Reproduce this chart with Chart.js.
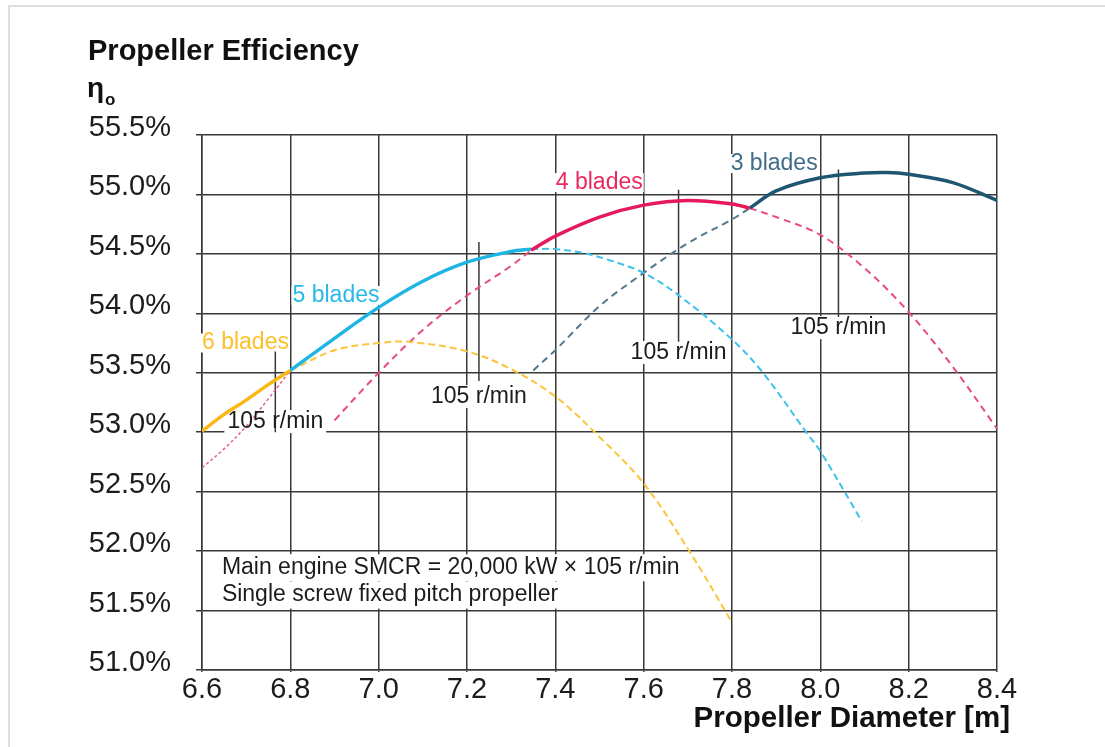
<!DOCTYPE html>
<html>
<head>
<meta charset="utf-8">
<title>Propeller Efficiency</title>
<script src="https://cdn.jsdelivr.net/npm/chart.js@4.4.1/dist/chart.umd.min.js"></script>
<style>
  html, body { margin: 0; padding: 0; background: #fff; }
  #wrap { position: relative; width: 1105px; height: 747px; overflow: hidden; }
  #frame { position: absolute; left: 8px; top: 5px; right: -10px; bottom: -10px;
           border-top: 2px solid #dedede; border-left: 2px solid #dedede; }
  canvas { position: absolute; left: 0; top: 0; }
</style>
</head>
<body>
<div id="wrap"><div id="frame"></div><canvas id="chart" width="1105" height="747"></canvas></div>
<script>
// axis ticks
const xTickValues = [6.6, 6.8, 7.0, 7.2, 7.4, 7.6, 7.8, 8.0, 8.2, 8.4];
const yTickValues = [51.0, 51.5, 52.0, 52.5, 53.0, 53.5, 54.0, 54.5, 55.0, 55.5];

// 6 blades
const sixSolidX = [6.6, 6.65, 6.7, 6.75, 6.8];
const sixSolidY = [53.01, 53.15, 53.27, 53.40, 53.52];
const sixDashX = [6.8, 6.9, 7.0, 7.07, 7.2, 7.3, 7.4, 7.5, 7.6, 7.7, 7.8];
const sixDashY = [53.52, 53.69, 53.75, 53.76, 53.68, 53.53, 53.30, 52.96, 52.57, 52.02, 51.40];

// 5 blades
const fiveLowX = [6.6, 6.65, 6.7, 6.75, 6.8];
const fiveLowY = [52.70, 52.86, 53.05, 53.28, 53.52];
const fiveSolidX = [6.8, 6.9, 7.0, 7.1, 7.2, 7.3, 7.345];
const fiveSolidY = [53.52, 53.79, 54.05, 54.27, 54.43, 54.52, 54.54];
const fiveDashX = [7.345, 7.4, 7.46, 7.52, 7.6, 7.68, 7.8, 7.87, 7.97, 8.0, 8.094];
const fiveDashY = [54.54, 54.54, 54.51, 54.45, 54.34, 54.15, 53.78, 53.50, 52.99, 52.84, 52.25];

// 4 blades
const fourLowX = [6.9, 7.0, 7.1, 7.2, 7.3, 7.345];
const fourLowY = [53.10, 53.50, 53.86, 54.15, 54.40, 54.53];
const fourSolidX = [7.345, 7.4, 7.5, 7.6, 7.7, 7.8, 7.84];
const fourSolidY = [54.53, 54.65, 54.81, 54.91, 54.95, 54.92, 54.885];
const fourHighX = [7.84, 7.9, 8.0, 8.1, 8.2, 8.3, 8.4];
const fourHighY = [54.885, 54.81, 54.66, 54.38, 54.01, 53.55, 53.03];

// 3 blades
const threeLowX = [7.35, 7.4, 7.5, 7.6, 7.7, 7.8, 7.84];
const threeLowY = [53.52, 53.69, 54.06, 54.34, 54.59, 54.79, 54.885];
const threeSolidX = [7.84, 7.9, 8.0, 8.1, 8.15, 8.2, 8.3, 8.4];
const threeSolidY = [54.885, 55.03, 55.14, 55.18, 55.185, 55.17, 55.10, 54.95];

// 105 r/min markers (6, 5, 4, 3 blades)
const markerX = [6.766, 7.227, 7.679, 8.041];
const markerTop = [53.68, 54.60, 55.04, 55.21];
const markerBottom = [53.00, 53.43, 53.76, 53.97];
const markerLabelY = [53.09, 53.30, 53.67, 53.88];
const markerText = '105 r/min';

// blade labels
const bladeNames = ['6 blades', '5 blades', '4 blades', '3 blades'];
const bladeLabelX = [6.6, 6.805, 7.401, 7.797];
const bladeLabelY = [53.75, 54.15, 55.10, 55.26];

// note
const noteLines = ['Main engine SMCR = 20,000 kW \u00d7 105 r/min', 'Single screw fixed pitch propeller'];
const noteX = 6.645;
const noteY = [51.86, 51.63];

const FONT = '"Liberation Sans", Arial, Helvetica, sans-serif';
const TEXT = '#1c1c1c';
const GRID = '#383838';
const YELLOW = '#FBB715', CYAN = '#1EB4E4', RED = '#E5195B', TEAL = '#1E5672';
const bladeColors = ['#FDC02A', '#27B9E8', '#E8285F', '#3F6D87'];

function series(xs, ys, color, width, dash) {
    return {
        data: xs.map((x, i) => ({ x: x, y: ys[i] })),
        borderColor: color,
        borderWidth: width,
        borderDash: dash || [],
        pointRadius: 0,
        fill: false,
        tension: 0.35
    };
}

const datasets = [
    series(sixSolidX, sixSolidY, YELLOW, 3.5),
    series(fiveSolidX, fiveSolidY, CYAN, 3.5),
    series(fourSolidX, fourSolidY, RED, 3.5),
    series(threeSolidX, threeSolidY, TEAL, 3.5),
    series(sixDashX, sixDashY, '#FCC43A', 2, [7, 4]),
    series(fiveDashX, fiveDashY, '#3DC2EC', 2, [7, 4]),
    series(fiveLowX, fiveLowY, '#EC5C86', 1.5, [3, 2.5]),
    series(fourLowX, fourLowY, '#EA4B77', 2, [7, 5]),
    series(fourHighX, fourHighY, '#EA4B77', 2, [7, 5]),
    series(threeLowX, threeLowY, '#52788C', 2, [7, 5])
];
markerX.forEach((x, i) => {
    datasets.push({
        data: [{ x: x, y: markerTop[i] }, { x: x, y: markerBottom[i] }],
        borderColor: GRID, borderWidth: 1.5, pointRadius: 0, fill: false
    });
});

function textBox(ctx, text, x, y, align, padX, padY, fontSize) {
    const w = ctx.measureText(text).width;
    const left = align === 'center' ? x - w / 2 : x;
    ctx.fillRect(left - padX, y - fontSize / 2 - padY, w + padX * 2, fontSize + padY * 2);
}

const overlay = {
    id: 'overlay',
    beforeDatasetsDraw(chart) {
        const { ctx, scales: { x, y } } = chart;
        ctx.save();
        ctx.fillStyle = '#fff';
        ctx.font = '23px ' + FONT;
        markerX.forEach((mx, i) => {
            textBox(ctx, markerText, x.getPixelForValue(mx), y.getPixelForValue(markerLabelY[i]), 'center', 3, 0, 23);
        });
        bladeNames.forEach((name, i) => {
            textBox(ctx, name, x.getPixelForValue(bladeLabelX[i]), y.getPixelForValue(bladeLabelY[i]), 'left', 1, -2, 23);
        });
        noteLines.forEach((line, i) => {
            textBox(ctx, line, x.getPixelForValue(noteX), y.getPixelForValue(noteY[i]), 'left', 5, 2, 23);
        });
        ctx.restore();
    },
    afterDatasetsDraw(chart) {
        const { ctx, scales: { x, y } } = chart;
        ctx.save();
        ctx.font = '23px ' + FONT;
        ctx.textBaseline = 'middle';
        ctx.fillStyle = TEXT;
        ctx.textAlign = 'center';
        markerX.forEach((mx, i) => {
            ctx.fillText(markerText, x.getPixelForValue(mx), y.getPixelForValue(markerLabelY[i]));
        });
        ctx.textAlign = 'left';
        bladeNames.forEach((name, i) => {
            ctx.fillStyle = bladeColors[i];
            ctx.fillText(name, x.getPixelForValue(bladeLabelX[i]), y.getPixelForValue(bladeLabelY[i]));
        });
        ctx.fillStyle = TEXT;
        noteLines.forEach((line, i) => {
            ctx.fillText(line, x.getPixelForValue(noteX), y.getPixelForValue(noteY[i]));
        });
        ctx.restore();
    },
    afterDraw(chart) {
        const ctx = chart.ctx;
        ctx.save();
        ctx.fillStyle = '#111';
        ctx.textBaseline = 'alphabetic';
        ctx.textAlign = 'left';
        ctx.font = 'bold 29px ' + FONT;
        ctx.fillText('Propeller Efficiency', 88, 60);
        ctx.font = 'bold 28px ' + FONT;
        ctx.fillText('\u03b7', 87, 97);
        ctx.font = 'bold 17px ' + FONT;
        ctx.fillText('o', 105, 105);
        ctx.font = 'bold 29.5px ' + FONT;
        ctx.textAlign = 'right';
        ctx.fillText('Propeller Diameter [m]', 1010, 727);
        ctx.restore();
    }
};

new Chart(document.getElementById('chart'), {
    type: 'line',
    data: { datasets: datasets },
    options: {
        responsive: false,
        animation: false,
        layout: { padding: { left: 0, right: 108, top: 135, bottom: 0 } },
        plugins: { legend: { display: false }, tooltip: { enabled: false } },
        scales: {
            x: {
                type: 'linear',
                min: 6.6,
                max: 8.4,
                afterBuildTicks: s => { s.ticks = xTickValues.map(v => ({ value: v })); },
                afterFit: s => { s.height = 77; },
                grid: { color: GRID, lineWidth: 1.5, tickLength: 2 },
                border: { color: GRID, width: 1.5 },
                ticks: {
                    color: TEXT,
                    padding: 1,
                    maxRotation: 0,
                    autoSkip: false,
                    font: { family: FONT, size: 29 },
                    callback: v => v.toFixed(1)
                }
            },
            y: {
                type: 'linear',
                min: 51.0,
                max: 55.5,
                afterBuildTicks: s => { s.ticks = yTickValues.map(v => ({ value: v })); },
                afterFit: s => { s.width = 202; },
                grid: { color: GRID, lineWidth: 1.5, tickLength: 6 },
                border: { color: GRID, width: 1.5 },
                ticks: {
                    color: TEXT,
                    padding: 25,
                    labelOffset: -7,
                    autoSkip: false,
                    font: { family: FONT, size: 29 },
                    callback: v => v.toFixed(1) + '%'
                }
            }
        }
    },
    plugins: [overlay]
});
</script>
</body>
</html>
